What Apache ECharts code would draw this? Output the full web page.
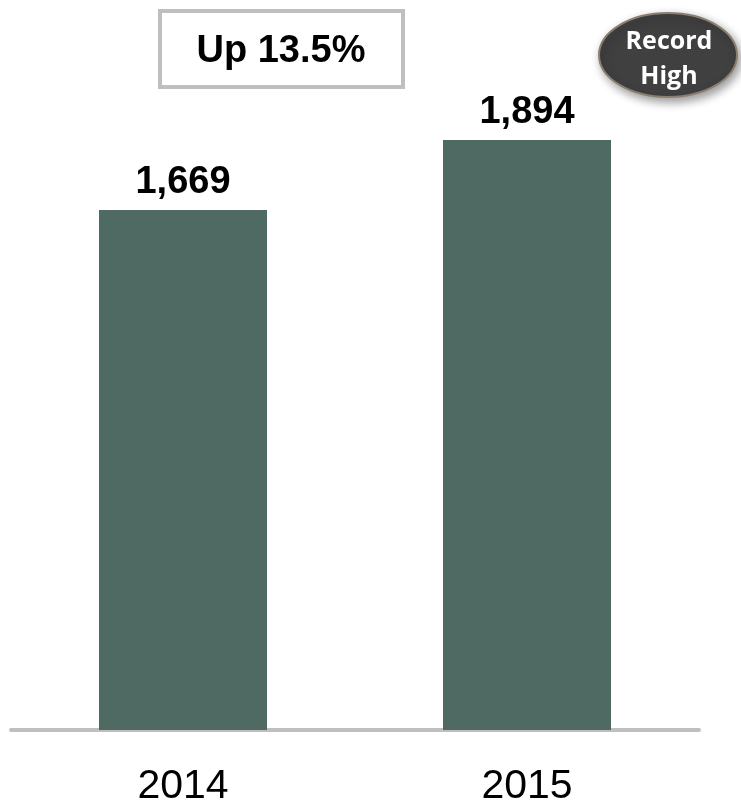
<!DOCTYPE html>
<html>
<head>
<meta charset="utf-8">
<script src="https://cdn.jsdelivr.net/npm/echarts@6/dist/echarts.min.js"></script>
<style>
  html, body { margin: 0; padding: 0; background: #ffffff; }
  #chart { width: 741px; height: 803px; }
</style>
</head>
<body>
<div id="chart"></div>
<script>
// Annual totals
const years = ['2014', '2015'];
const totals = [1669, 1894];
const growthNote = 'Up 13.5%';
const badgeLines = ['Record', 'High'];

const chart = echarts.init(document.getElementById('chart'), null, { renderer: 'canvas' });

const fmt = v => v.toLocaleString('en-US');

chart.setOption({
  animation: false,
  backgroundColor: '#ffffff',
  grid: {
    left: 11, right: 42, top: 107, bottom: 73,
    containLabel: false,
    outerBoundsMode: 'none'
  },
  xAxis: {
    type: 'category',
    data: years,
    axisLine: { show: true, lineStyle: { color: '#bfbfbf', width: 4 } },
    axisTick: { show: false },
    axisLabel: {
      margin: 36,
      color: '#000000',
      fontFamily: 'Liberation Sans, Arial, sans-serif',
      fontSize: 41
    }
  },
  yAxis: {
    type: 'value',
    min: 0,
    max: 2000,
    show: false,
    splitLine: { show: false }
  },
  series: [{
    type: 'bar',
    data: totals,
    barWidth: 168,
    itemStyle: { color: '#4e6a63' },
    label: {
      show: true,
      position: 'top',
      distance: 9,
      formatter: p => fmt(p.value),
      color: '#000000',
      fontFamily: 'Liberation Sans, Arial, sans-serif',
      fontWeight: 'bold',
      fontSize: 38
    }
  }],
  graphic: [
    {
      type: 'rect',
      shape: { x: 160, y: 11, width: 243, height: 76 },
      style: { fill: '#ffffff', stroke: '#bfbfbf', lineWidth: 4 }
    },
    {
      type: 'text',
      x: 281, y: 52,
      style: {
        text: growthNote,
        fill: '#000000',
        font: 'bold 38px "Liberation Sans", Arial, sans-serif',
        align: 'center',
        verticalAlign: 'middle'
      }
    },
    {
      type: 'ellipse',
      shape: { cx: 668, cy: 55, rx: 69, ry: 42 },
      style: {
        fill: '#404040',
        stroke: '#8a7e6e',
        lineWidth: 2,
        shadowBlur: 10,
        shadowOffsetX: 3,
        shadowOffsetY: 4,
        shadowColor: 'rgba(0,0,0,0.4)'
      }
    },
    {
      type: 'text',
      x: 669, y: 42,
      style: {
        text: badgeLines[0],
        fill: '#ffffff',
        font: 'bold 25px "Open Sans", sans-serif',
        align: 'center',
        verticalAlign: 'middle'
      }
    },
    {
      type: 'text',
      x: 669, y: 77,
      style: {
        text: badgeLines[1],
        fill: '#ffffff',
        font: 'bold 25px "Open Sans", sans-serif',
        align: 'center',
        verticalAlign: 'middle'
      }
    }
  ]
});
</script>
</body>
</html>
